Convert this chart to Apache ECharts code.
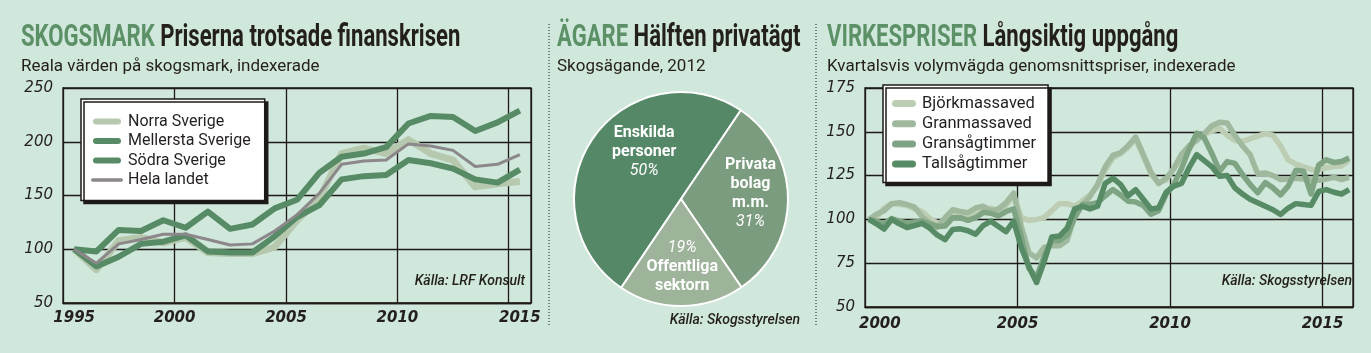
<!DOCTYPE html>
<html>
<head>
<meta charset="utf-8">
<script src="https://cdn.jsdelivr.net/npm/echarts@6/dist/echarts.min.js"></script>
<style>
    html, body { margin: 0; padding: 0; background: #d0e7db; }
    #main { width: 1371px; height: 353px; }
</style>
</head>
<body>
<div id="main"></div>
<script>
//skogsmark, reala värden, index
var years = ['1995', '1996', '1997', '1998', '1999', '2000', '2001', '2002', '2003', '2004', '2005',
    '2006', '2007', '2008', '2009', '2010', '2011', '2012', '2013', '2014', '2015'];
var norra = [100, 81, 108, 111, 106, 111, 97, 96, 96, 102, 127, 147, 189, 194, 189, 202, 189, 183, 158, 161, 163];
var mellersta = [100, 98, 118, 117, 127, 120, 135, 119, 123, 138, 146, 171, 186, 189, 195, 217, 224, 223, 210, 218, 229];
var sodra = [100, 84, 93, 105, 107, 113, 98, 97, 97, 112, 130, 141, 165, 168, 169, 183, 180, 175, 165, 162, 174];
var helaLandet = [100, 87, 105, 109, 114, 114, 109, 104, 105, 117, 132, 152, 179, 182, 183, 198, 196, 192, 177, 179, 188];
var skogTicks = [50, 100, 150, 200, 250];

//ägande 2012
var agare = ['Enskilda\npersoner', 'Privata\nbolag\nm.m.', 'Offentliga\nsektorn'];
var andel = [50, 31, 19];

//virkespriser per kvartal
var kvartal = [];
for (var y = 2000; y <= 2015; y++) {
    for (var q = 1; q <= 4; q++) kvartal.push(y + ' K' + q);
}
var bjork = [100, 101, 106.5, 109, 108.5, 108, 106, 104.5, 100.5, 98, 99, 102, 104, 102, 103, 105, 106.5, 104, 108, 113.5,
    101, 99.5, 100, 101, 105, 109, 109, 107.5, 110.5, 114, 119, 128, 135, 137.5, 141, 146, 136, 126, 121, 122.5,
    129, 137, 140, 146.5, 148.5, 150.5, 152, 148, 145, 144.5, 146, 147.5, 149, 148, 142, 134, 131.5, 130, 128.5, 128.3,
    129.5, 130.3, 130.5, 134];
var granmassa = [100, 103, 105, 109, 109.5, 108.5, 107, 101.5, 98, 95.5, 101, 105.5, 104.5, 103.8, 106.5, 107.5, 105, 106, 109.5, 115,
    96, 81, 78, 84, 85, 85, 88, 102, 108, 113, 120, 130, 136.5, 138, 142, 147, 137, 127, 120.5, 123.5,
    129, 137, 142, 145, 149, 153.5, 155.5, 155, 148, 142, 137, 126, 126.5, 125, 122.7, 123, 123.5, 123, 122.5, 122.3,
    123, 124, 122.7, 124];
var gransag = [100, 99, 97.5, 100.5, 99, 98, 98.5, 99, 97.5, 96, 96.2, 101, 101, 99.5, 101, 104, 103.5, 102, 104.5, 106,
    90, 72, 67, 79, 88, 88, 91, 101, 108.5, 108.5, 109.5, 113.5, 117, 114, 110.4, 110, 108, 103, 105, 114.5,
    120, 129, 140, 149.2, 146.5, 137.5, 127.5, 133, 132, 125.6, 120, 115.2, 121, 118, 114, 119, 128, 127.5, 114.5, 131,
    134, 132.5, 133, 135];
var tallsag = [100, 97.5, 94.5, 100, 97.5, 95.3, 96.5, 97.7, 95, 91, 88.5, 94.3, 94.6, 93.5, 91.5, 96.5, 99, 96, 93, 99,
    84, 73, 64, 76, 90, 90.5, 95, 106, 107.5, 106, 107.5, 120.5, 123.5, 120, 113.5, 117, 111.5, 106, 106.5, 115.5,
    119, 120.5, 129.5, 137, 133.5, 130, 124.6, 125, 118, 114.5, 111.5, 109.5, 107.5, 105.5, 102.8, 106.5, 109, 108.5, 108, 116,
    117, 115.5, 114.5, 117];
var virkesTicks = [50, 75, 100, 125, 150, 175];

(function () {
    var myChart = echarts.init(document.getElementById('main'));

    var ink = '#1e1a17';
    var green = '#568b66';
    var thick = 'path://M3,0H25A3,3 0 0 1 25,6H3A3,3 0 0 1 3,0Z';
    var thin = 'path://M1.5,0H26.5A1.5,1.5 0 0 1 26.5,3H1.5A1.5,1.5 0 0 1 1.5,0Z';

    function axisY(idx, ticks) {
        return {
            type: 'value', gridIndex: idx,
            min: ticks[0], max: ticks[ticks.length - 1], interval: ticks[1] - ticks[0],
            axisLine: {show: true, lineStyle: {color: ink, width: 1.3}},
            axisTick: {show: false},
            splitLine: {lineStyle: {color: ink, width: 1.3}},
            axisLabel: {
                margin: 10, color: '#231f20', fontSize: 15, fontStyle: 'italic',
                fontFamily: 'DejaVu Sans'
            }
        };
    }

    function line(name, data, color, width, xi) {
        return {
            name: name, type: 'line', xAxisIndex: xi, yAxisIndex: xi,
            data: data, color: color, symbol: 'none', silent: true,
            lineStyle: {color: color, width: width, join: 'round', cap: 'butt'}
        };
    }

    //rubrik: grön etikett + mörk text, smal stil
    function rubrik(x, etikett, text) {
        return {
            type: 'text', x: x, y: 38, scaleX: 0.69,
            style: {
                text: '{g|' + etikett + '} {d|' + text + '}',
                verticalAlign: 'middle',
                rich: {
                    g: {fontFamily: 'Roboto', fontWeight: 'bold', fontSize: 32, fill: '#5c9168'},
                    d: {fontFamily: 'Roboto', fontWeight: 'bold', fontSize: 32, fill: '#231f1a'}
                },
                fontFamily: 'Roboto', fontWeight: 'bold', fontSize: 32
            }
        };
    }

    function underrubrik(x, text) {
        return {
            type: 'text', x: x, y: 67, scaleX: 1.03,
            style: {text: text, fontFamily: 'Roboto', fontSize: 16.5, fill: '#231f1a', verticalAlign: 'middle'}
        };
    }

    function kalla(x, y, text) {
        return {
            type: 'text', x: x, y: y,
            style: {text: text, fontFamily: 'Roboto', fontStyle: 'italic', fontWeight: 500, fontSize: 14,
                fill: '#231f1a', align: 'right', verticalAlign: 'middle'}
        };
    }

    //x-etiketter flyttas lite som i originalet
    var xRich = {
        l: {padding: [0, 0, 0, 22]},
        r: {padding: [0, 22, 0, 0]},
        q: {padding: [0, 7.6, 0, 0]},
        n: {}
    };

    var option = {
        backgroundColor: '#d0e7db',
        animation: false,
        textStyle: {fontFamily: 'Roboto'},
        grid: [
            {left: 63, top: 88, width: 468, height: 215, show: true, borderColor: ink, borderWidth: 1.3},
            {left: 865, top: 88, width: 488, height: 219, show: true, borderColor: ink, borderWidth: 1.3}
        ],
        xAxis: [
            {
                type: 'category', gridIndex: 0, data: years, boundaryGap: true,
                axisLine: {lineStyle: {color: ink, width: 1.3}},
                axisTick: {inside: true, length: 6, interval: 0, lineStyle: {color: ink, width: 1.3}},
                splitLine: {
                    show: true, interval: function (i) { return i > 0 && i % 5 === 0; },
                    lineStyle: {color: ink, width: 1.3}
                },
                axisLabel: {
                    interval: function (i) { return i % 5 === 0; },
                    margin: 8, color: '#231f20', fontSize: 15, fontWeight: 'bold', fontStyle: 'italic',
                    fontFamily: 'DejaVu Sans',
                    formatter: function (v, i) {
                        return (i === 0 || i === years.length - 1) ? '{n|' + v + '}' : '{r|' + v + '}';
                    },
                    rich: xRich
                }
            },
            {
                type: 'category', gridIndex: 1, data: kvartal, boundaryGap: true,
                axisLine: {lineStyle: {color: ink, width: 1.3}},
                axisTick: {inside: true, length: 6, interval: 0, lineStyle: {color: ink, width: 1.3}},
                splitLine: {
                    show: true, interval: function (i) { return i > 0 && i % 20 === 0; },
                    lineStyle: {color: ink, width: 1.3}
                },
                axisLabel: {
                    interval: function (i) { return i % 20 === 0; },
                    margin: 10, color: '#231f20', fontSize: 15, fontWeight: 'bold', fontStyle: 'italic',
                    fontFamily: 'DejaVu Sans',
                    formatter: function (v, i) {
                        var yr = v.slice(0, 4);
                        return i === 0 ? '{l|' + yr + '}' : '{q|' + yr + '}';
                    },
                    rich: xRich
                }
            }
        ],
        yAxis: [axisY(0, skogTicks), axisY(1, virkesTicks)],
        legend: [
            {
                data: [
                    {name: 'Norra Sverige', icon: thick},
                    {name: 'Mellersta Sverige', icon: thick},
                    {name: 'Södra Sverige', icon: thick},
                    {name: 'Hela landet', icon: thin}
                ],
                orient: 'vertical', left: 81, top: 99, itemWidth: 32, itemHeight: 6, itemGap: 2.5,
                padding: [14, 14, 12, 10], backgroundColor: '#fff', borderColor: ink, borderWidth: 1.5,
                shadowColor: ink, shadowOffsetX: 3, shadowOffsetY: 3, shadowBlur: 0,
                textStyle: {fontFamily: 'Roboto', fontSize: 16, color: '#231f20', lineHeight: 17},
                itemStyle: {borderWidth: 0}, selectedMode: false
            },
            {
                data: ['Björkmassaved', 'Granmassaved', 'Gransågtimmer', 'Tallsågtimmer'],
                icon: 'path://M3.5,0H20.5A3.5,3.5 0 0 1 20.5,7H3.5A3.5,3.5 0 0 1 3.5,0Z',
                orient: 'vertical', left: 883, top: 85, itemWidth: 26, itemHeight: 7, itemGap: 3.2,
                padding: [10, 12, 10, 9], backgroundColor: '#fff', borderColor: ink, borderWidth: 1.5,
                shadowColor: ink, shadowOffsetX: 3, shadowOffsetY: 3, shadowBlur: 0,
                textStyle: {fontFamily: 'Roboto', fontSize: 16.5, color: '#231f20', lineHeight: 16.5},
                itemStyle: {borderWidth: 0}, selectedMode: false
            }
        ],
        series: [
            line('Norra Sverige', norra, '#b6c8ad', 7, 0),
            line('Mellersta Sverige', mellersta, green, 6, 0),
            line('Södra Sverige', sodra, green, 6, 0),
            line('Hela landet', helaLandet, '#8b878a', 3, 0),
            {
                type: 'pie', center: [681, 199], radius: 107, startAngle: 236, clockwise: true,
                silent: true, emphasis: {disabled: true},
                data: agare.map(function (n, i) {
                    return {name: n, value: andel[i], itemStyle: {color: ['#548866', '#7b9c7e', '#9db39a'][i]}};
                }),
                itemStyle: {borderColor: '#fff', borderWidth: 2},
                labelLine: {show: false},
                label: {
                    position: 'inside',
                    formatter: function (p) {
                        var rows = p.name.split('\n').map(function (s) { return '{b|' + s + '}'; });
                        var pct = '{i|' + p.value + '%}';
                        return (p.dataIndex === 2 ? [pct].concat(rows) : rows.concat(pct)).join('\n');
                    },
                    rich: {
                        b: {fontFamily: 'Roboto', fontWeight: 'bold', fontSize: 16, color: '#fff', lineHeight: 19},
                        i: {fontFamily: 'Roboto', fontStyle: 'italic', fontSize: 16, color: '#fff', lineHeight: 19}
                    }
                },
                labelLayout: function (p) {
                    var d = [[10, -15], [13, -5.5], [1, 11.5]][p.dataIndex];
                    return {dx: d[0], dy: d[1]};
                }
            },
            line('Björkmassaved', bjork, '#bccdb3', 5.5, 1),
            line('Granmassaved', granmassa, '#a0b99e', 5.5, 1),
            line('Gransågtimmer', gransag, '#7ea483', 5.5, 1),
            line('Tallsågtimmer', tallsag, green, 5.5, 1)
        ],
        graphic: [
            rubrik(21, 'SKOGSMARK', 'Priserna trotsade finanskrisen'),
            rubrik(557, 'ÄGARE', 'Hälften privatägt'),
            rubrik(827, 'VIRKESPRISER', 'Långsiktig uppgång'),
            underrubrik(21, 'Reala värden på skogsmark, indexerade'),
            underrubrik(557, 'Skogsägande, 2012'),
            underrubrik(827, 'Kvartalsvis volymvägda genomsnittspriser, indexerade'),
            kalla(525, 281, 'Källa: LRF Konsult'),
            kalla(800, 320, 'Källa: Skogsstyrelsen'),
            kalla(1352, 281, 'Källa: Skogsstyrelsen'),
            {
                type: 'line', shape: {x1: 549, y1: 24, x2: 549, y2: 326},
                style: {stroke: ink, lineWidth: 1, lineDash: [1, 2]}
            },
            {
                type: 'line', shape: {x1: 816, y1: 24, x2: 816, y2: 326},
                style: {stroke: ink, lineWidth: 1, lineDash: [1, 2]}
            }
        ]
    };

    myChart.setOption(option);
})();
</script>
</body>
</html>
